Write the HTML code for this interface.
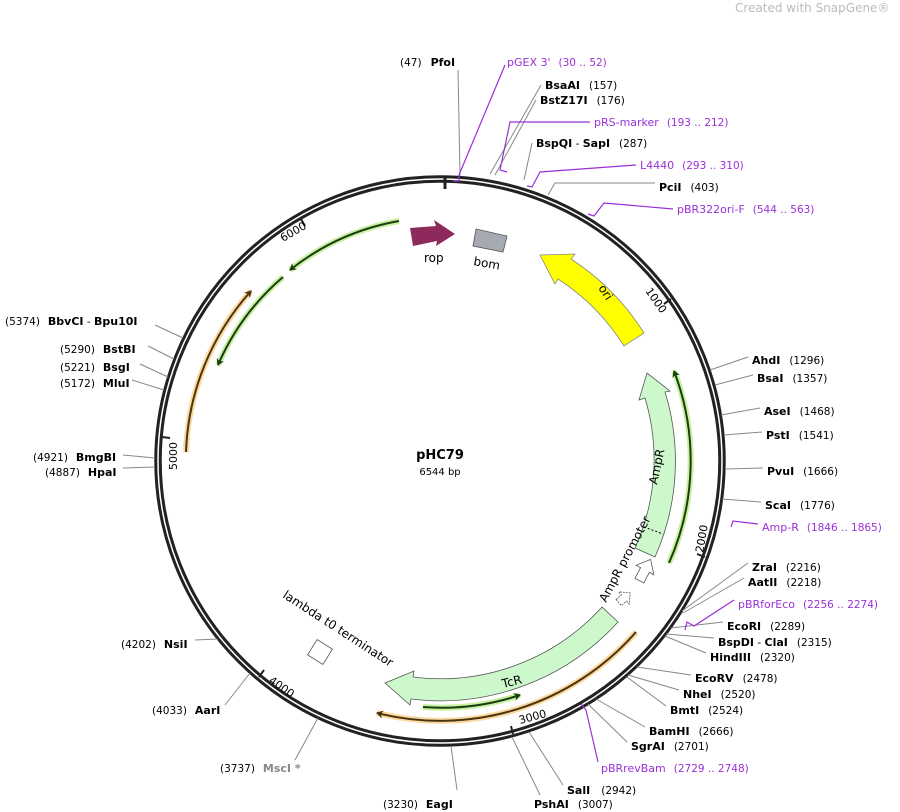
<!DOCTYPE html>
<html><head><meta charset="utf-8"><style>
body{margin:0;background:#fff;}
svg{display:block;font-family:"DejaVu Sans","Liberation Sans",sans-serif;}
.n{font-size:11px;font-weight:bold;fill:#000}
.p{font-size:10.5px;fill:#000}
.pu{font-size:11px;fill:#9b30d9}
.pn{font-size:10.5px;fill:#9b30d9}
.l{stroke:#888;stroke-width:1;fill:none}
.lp{stroke:#9b30d9;stroke-width:1.2;fill:none}
</style></head><body>
<svg width="900" height="812" viewBox="0 0 900 812">
<defs>
<marker id="ah" markerWidth="8" markerHeight="8" refX="6" refY="4" orient="auto" markerUnits="userSpaceOnUse"><path d="M0,0 L7,4 L0,8 L2,4 Z" fill="#1a3d10"/></marker>
<marker id="ao" markerWidth="8" markerHeight="8" refX="6" refY="4" orient="auto" markerUnits="userSpaceOnUse"><path d="M0,0 L7,4 L0,8 L2,4 Z" fill="#4a3510"/></marker>
</defs>
<text x="735" y="12" font-size="12" fill="#bbb">Created with SnapGene®</text>

<circle cx="440" cy="461" r="282" fill="none" stroke="#222" stroke-width="7.5"/>
<circle cx="440" cy="461" r="282" fill="none" stroke="#fff" stroke-width="1.5"/>
<line x1="445" y1="177" x2="445" y2="189" stroke="#222" stroke-width="3"/>

<g stroke="#222" stroke-width="2">
<line x1="671" y1="299" x2="664" y2="304"/>
<line x1="705" y1="557" x2="697" y2="554"/>
<line x1="513" y1="734" x2="511" y2="726"/>
<line x1="259" y1="677" x2="264" y2="670"/>
<line x1="162" y1="437" x2="170" y2="438"/>
<line x1="301" y1="219" x2="305" y2="226"/>
</g>
<g font-size="11" fill="#000">
<text transform="translate(645,291) rotate(55)">1000</text>
<text transform="translate(703,553) rotate(-80)">2000</text>
<text transform="translate(520,724) rotate(-15)">3000</text>
<text transform="translate(268,682) rotate(35)">4000</text>
<text transform="translate(177,470) rotate(-90)">5000</text>
<text transform="translate(283,242) rotate(-30)">6000</text>
</g>

<path d="M644,333 A241,241 0 0 0 571,259 L575,254 L540,255 L555,284 L558,279 A217,217 0 0 1 624,346 Z" fill="#ffff00" stroke="#888" stroke-width="0.8"/>
<text transform="translate(598,288) rotate(57)" font-size="12">ori</text>

<path d="M410,228 L436,226 L434,220 L455,234 L436,246 L437,241 L413,246 Z" fill="#8e2a5b"/>
<text x="424" y="262" font-size="12">rop</text>
<path d="M476,229 L507,236 L503,252 L473,246 Z" fill="#a6aab2" stroke="#555" stroke-width="0.8"/>
<text transform="translate(473,265) rotate(10)" font-size="12">bom</text>

<path d="M655,557 A235,235 0 0 0 665,392 L670,391 L647,373 L639,400 L645,398 A214,214 0 0 1 635,548 Z" fill="#ccf8cc" stroke="#555" stroke-width="0.8"/>
<line x1="644" y1="527" x2="663" y2="534" stroke="#000" stroke-width="1" stroke-dasharray="2,2"/>
<text transform="translate(657,485) rotate(-78)" font-size="12">AmpR</text>
<text transform="translate(606,603) rotate(-62)" font-size="12">AmpR promoter</text>
<g transform="translate(645,570) rotate(28)"><path d="M-5,12 L-5,0 L-10,0 L0,-12 L10,0 L5,0 L5,12 Z" fill="#fff" stroke="#555" stroke-width="0.8"/></g>
<g transform="translate(624,598) rotate(50)"><path d="M-4,7 L-4,0 L-8,0 L0,-8 L8,0 L4,0 L4,7 Z" fill="#fff" stroke="#555" stroke-width="0.8" stroke-dasharray="2,1"/></g>

<path d="M618,622 A240,240 0 0 1 411,699 L410,705 L385,683 L414,671 L413,677 A218,218 0 0 0 602,607 Z" fill="#ccf8cc" stroke="#555" stroke-width="0.8"/>
<text transform="translate(503,688) rotate(-14)" font-size="12">TcR</text>

<g transform="translate(320,652) rotate(32)"><rect x="-9" y="-9" width="18" height="18" fill="#fff" stroke="#555" stroke-width="0.8"/></g>
<text transform="translate(282,597) rotate(33)" font-size="12">lambda t0 terminator</text>

<g fill="none">
<path d="M669,563 A251,251 0 0 0 674,371" stroke="#c8f0a0" stroke-width="6"/>
<path d="M669,563 A251,251 0 0 0 674,371" stroke="#1a3d10" stroke-width="2" marker-end="url(#ah)"/>
<path d="M423,707 A247,247 0 0 0 520,695" stroke="#c8f0a0" stroke-width="6"/>
<path d="M423,707 A247,247 0 0 0 520,695" stroke="#1a3d10" stroke-width="2" marker-end="url(#ah)"/>
<path d="M399,221 A243,243 0 0 0 290,270" stroke="#c8f0a0" stroke-width="6"/>
<path d="M399,221 A243,243 0 0 0 290,270" stroke="#1a3d10" stroke-width="2" marker-end="url(#ah)"/>
<path d="M283,277 A242,242 0 0 0 218,365" stroke="#c8f0a0" stroke-width="6"/>
<path d="M283,277 A242,242 0 0 0 218,365" stroke="#1a3d10" stroke-width="2" marker-end="url(#ah)"/>
<path d="M636,632 A260,260 0 0 1 377,713" stroke="#fcd9a0" stroke-width="6"/>
<path d="M636,632 A260,260 0 0 1 377,713" stroke="#4a3510" stroke-width="2" marker-end="url(#ao)"/>
<path d="M186,452 A254,254 0 0 1 251,291" stroke="#fcd9a0" stroke-width="6"/>
<path d="M186,452 A254,254 0 0 1 251,291" stroke="#4a3510" stroke-width="2" marker-end="url(#ao)"/>
</g>

<text x="440" y="459" text-anchor="middle" font-size="13" font-weight="bold">pHC79</text>
<text x="440" y="475" text-anchor="middle" font-size="10">6544 bp</text>

<g class="l">
<path d="M458,70 L460,176"/>
<path d="M541,85 L490,174"/>
<path d="M536,100 L495,175"/>
<path d="M532,143 L524,180"/>
<path d="M655,183 L555,183 L548,195"/>
<path d="M748,357 L710,370"/><path d="M753,375 L715,385"/><path d="M760,408 L721,415"/>
<path d="M762,432 L724,435"/><path d="M763,468 L725,469"/><path d="M761,502 L722,499"/>
<path d="M748,563 L682,611"/><path d="M744,578 L683,613"/><path d="M723,622 L671,628"/>
<path d="M714,638 L666,634"/><path d="M706,653 L665,636"/><path d="M691,675 L637,667"/>
<path d="M679,690 L628,675"/><path d="M666,706 L627,677"/><path d="M645,727 L596,699"/>
<path d="M627,742 L588,704"/><path d="M563,785 L529,732"/><path d="M540,795 L512,737"/>
<path d="M457,790 L451,746"/><path d="M295,760 L318,718"/><path d="M225,705 L250,673"/>
<path d="M195,640 L218,639"/><path d="M123,468 L155,467"/><path d="M123,455 L155,458"/>
<path d="M132,380 L164,390"/><path d="M140,364 L168,377"/><path d="M148,346 L174,359"/><path d="M155,325 L183,338"/>
</g>
<g class="lp">
<path d="M505,65 L459,175 M453,181 L459,181 L459,175"/>
<path d="M590,122 L510,122 L500,170 L507,172"/>
<path d="M636,165 L540,172 L532,187 L527,186"/>
<path d="M673,209 L604,203 L594,216 L588,214"/>
<path d="M758,524 L733,521 L731,527"/>
<path d="M734,600 L694,626 L687,622 L685,630"/>
<path d="M598,762 L586,710 L581,704"/>
</g>

<text x="400" y="66"><tspan class="p">(47)</tspan><tspan class="n" dx="9">PfoI</tspan></text>
<text x="507" y="66"><tspan class="pu">pGEX 3'</tspan><tspan class="pn" dx="8">(30 .. 52)</tspan></text>
<text x="545" y="89"><tspan class="n">BsaAI</tspan><tspan class="p" dx="9">(157)</tspan></text>
<text x="540" y="104"><tspan class="n">BstZ17I</tspan><tspan class="p" dx="9">(176)</tspan></text>
<text x="594" y="126"><tspan class="pu">pRS-marker</tspan><tspan class="pn" dx="8">(193 .. 212)</tspan></text>
<text x="536" y="147"><tspan class="n">BspQI</tspan><tspan class="p"> - </tspan><tspan class="n">SapI</tspan><tspan class="p" dx="9">(287)</tspan></text>
<text x="640" y="169"><tspan class="pu">L4440</tspan><tspan class="pn" dx="8">(293 .. 310)</tspan></text>
<text x="659" y="191"><tspan class="n">PciI</tspan><tspan class="p" dx="9">(403)</tspan></text>
<text x="677" y="213"><tspan class="pu">pBR322ori-F</tspan><tspan class="pn" dx="8">(544 .. 563)</tspan></text>

<text x="752" y="364"><tspan class="n">AhdI</tspan><tspan class="p" dx="9">(1296)</tspan></text>
<text x="757" y="382"><tspan class="n">BsaI</tspan><tspan class="p" dx="9">(1357)</tspan></text>
<text x="764" y="415"><tspan class="n">AseI</tspan><tspan class="p" dx="9">(1468)</tspan></text>
<text x="766" y="439"><tspan class="n">PstI</tspan><tspan class="p" dx="9">(1541)</tspan></text>
<text x="767" y="475"><tspan class="n">PvuI</tspan><tspan class="p" dx="9">(1666)</tspan></text>
<text x="765" y="509"><tspan class="n">ScaI</tspan><tspan class="p" dx="9">(1776)</tspan></text>
<text x="762" y="531"><tspan class="pu">Amp-R</tspan><tspan class="pn" dx="8">(1846 .. 1865)</tspan></text>
<text x="752" y="571"><tspan class="n">ZraI</tspan><tspan class="p" dx="9">(2216)</tspan></text>
<text x="748" y="586"><tspan class="n">AatII</tspan><tspan class="p" dx="9">(2218)</tspan></text>
<text x="738" y="608"><tspan class="pu">pBRforEco</tspan><tspan class="pn" dx="8">(2256 .. 2274)</tspan></text>
<text x="727" y="630"><tspan class="n">EcoRI</tspan><tspan class="p" dx="9">(2289)</tspan></text>
<text x="718" y="646"><tspan class="n">BspDI</tspan><tspan class="p"> - </tspan><tspan class="n">ClaI</tspan><tspan class="p" dx="9">(2315)</tspan></text>
<text x="710" y="661"><tspan class="n">HindIII</tspan><tspan class="p" dx="9">(2320)</tspan></text>
<text x="695" y="682"><tspan class="n">EcoRV</tspan><tspan class="p" dx="9">(2478)</tspan></text>
<text x="683" y="698"><tspan class="n">NheI</tspan><tspan class="p" dx="9">(2520)</tspan></text>
<text x="670" y="714"><tspan class="n">BmtI</tspan><tspan class="p" dx="9">(2524)</tspan></text>
<text x="649" y="735"><tspan class="n">BamHI</tspan><tspan class="p" dx="9">(2666)</tspan></text>
<text x="631" y="750"><tspan class="n">SgrAI</tspan><tspan class="p" dx="9">(2701)</tspan></text>
<text x="601" y="772"><tspan class="pu">pBRrevBam</tspan><tspan class="pn" dx="8">(2729 .. 2748)</tspan></text>
<text x="567" y="794"><tspan class="n">SalI</tspan><tspan class="p" dx="11">(2942)</tspan></text>
<text x="534" y="808"><tspan class="n">PshAI</tspan><tspan class="p" dx="9">(3007)</tspan></text>
<text x="383" y="808"><tspan class="p">(3230)</tspan><tspan class="n" dx="8">EagI</tspan></text>
<text x="220" y="772"><tspan class="p">(3737)</tspan><tspan class="n" dx="8" style="fill:#888">MscI *</tspan></text>
<text x="152" y="714"><tspan class="p">(4033)</tspan><tspan class="n" dx="8">AarI</tspan></text>
<text x="121" y="648"><tspan class="p">(4202)</tspan><tspan class="n" dx="8">NsiI</tspan></text>
<text x="45" y="476"><tspan class="p">(4887)</tspan><tspan class="n" dx="8">HpaI</tspan></text>
<text x="33" y="461"><tspan class="p">(4921)</tspan><tspan class="n" dx="8">BmgBI</tspan></text>
<text x="60" y="387"><tspan class="p">(5172)</tspan><tspan class="n" dx="8">MluI</tspan></text>
<text x="60" y="371"><tspan class="p">(5221)</tspan><tspan class="n" dx="8">BsgI</tspan></text>
<text x="60" y="353"><tspan class="p">(5290)</tspan><tspan class="n" dx="8">BstBI</tspan></text>
<text x="5" y="325"><tspan class="p">(5374)</tspan><tspan class="n" dx="8">BbvCI</tspan><tspan class="p"> - </tspan><tspan class="n">Bpu10I</tspan></text>
</svg>
</body></html>
